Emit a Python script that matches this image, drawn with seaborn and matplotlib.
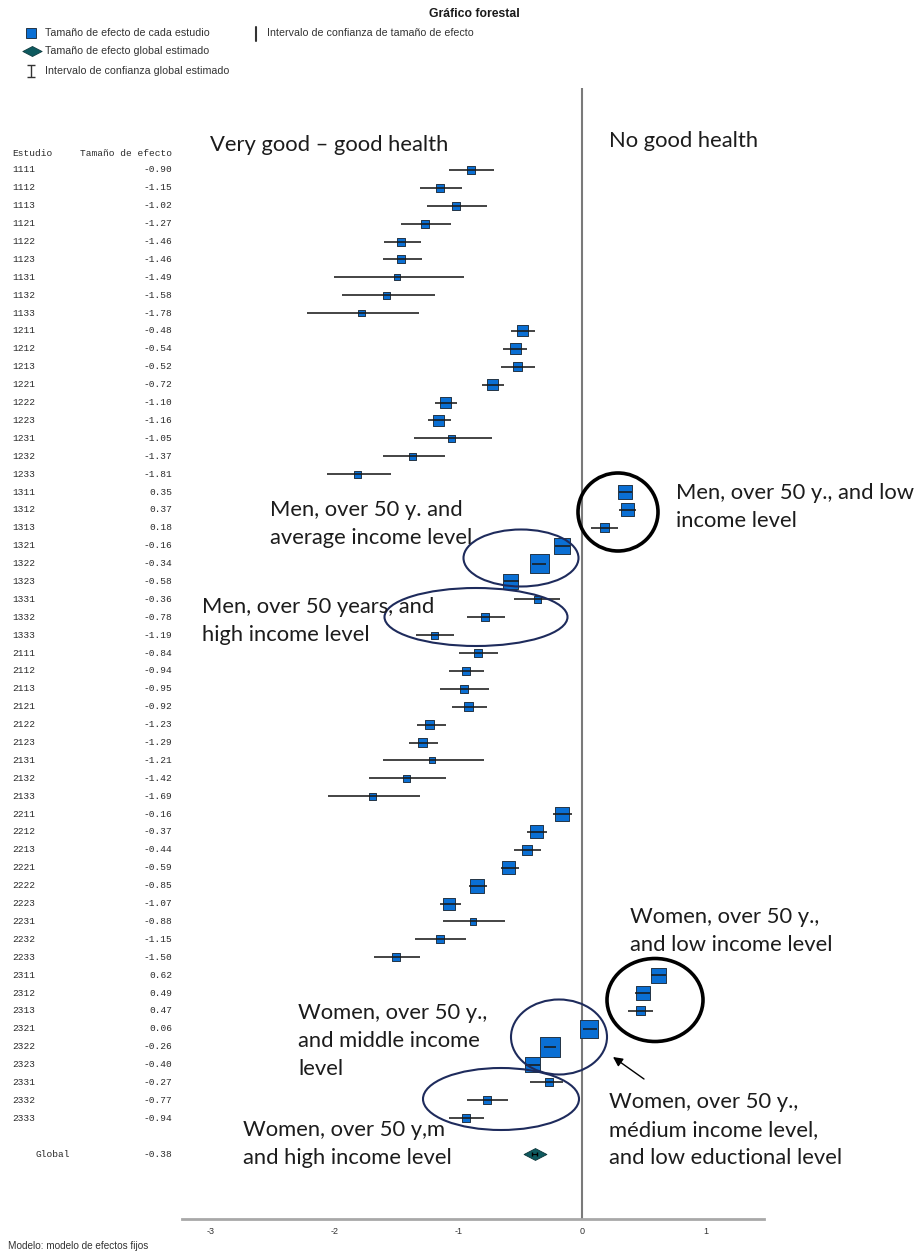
import numpy as np
import pandas as pd
import matplotlib
matplotlib.use("Agg")
import matplotlib.pyplot as plt
import seaborn as sns
from matplotlib.patches import Ellipse
from matplotlib.path import Path
import matplotlib.transforms as mtransforms

# ---------------- data ----------------
studies = ["1111", "1112", "1113", "1121", "1122", "1123", "1131", "1132", "1133",
           "1211", "1212", "1213", "1221", "1222", "1223", "1231", "1232", "1233",
           "1311", "1312", "1313", "1321", "1322", "1323", "1331", "1332", "1333",
           "2111", "2112", "2113", "2121", "2122", "2123", "2131", "2132", "2133",
           "2211", "2212", "2213", "2221", "2222", "2223", "2231", "2232", "2233",
           "2311", "2312", "2313", "2321", "2322", "2323", "2331", "2332", "2333"]

effects = [-0.90, -1.15, -1.02, -1.27, -1.46, -1.46, -1.49, -1.58, -1.78,
           -0.48, -0.54, -0.52, -0.72, -1.10, -1.16, -1.05, -1.37, -1.81,
           0.35, 0.37, 0.18, -0.16, -0.34, -0.58, -0.36, -0.78, -1.19,
           -0.84, -0.94, -0.95, -0.92, -1.23, -1.29, -1.21, -1.42, -1.69,
           -0.16, -0.37, -0.44, -0.59, -0.85, -1.07, -0.88, -1.15, -1.50,
           0.62, 0.49, 0.47, 0.06, -0.26, -0.40, -0.27, -0.77, -0.94]

ci_low = [-1.07, -1.31, -1.25, -1.46, -1.60, -1.61, -2.00, -1.94, -2.22,
          -0.57, -0.64, -0.65, -0.81, -1.19, -1.24, -1.36, -1.61, -2.06,
          0.30, 0.30, 0.07, -0.22, -0.40, -0.63, -0.55, -0.93, -1.34,
          -0.99, -1.07, -1.15, -1.05, -1.33, -1.40, -1.61, -1.72, -2.05,
          -0.23, -0.44, -0.55, -0.65, -0.91, -1.15, -1.12, -1.35, -1.68,
          0.56, 0.43, 0.37, 0.01, -0.31, -0.46, -0.42, -0.93, -1.07]

ci_high = [-0.71, -0.97, -0.77, -1.06, -1.30, -1.29, -0.95, -1.19, -1.32,
           -0.38, -0.44, -0.38, -0.63, -1.01, -1.06, -0.73, -1.11, -1.54,
           0.40, 0.44, 0.29, -0.10, -0.29, -0.51, -0.18, -0.62, -1.03,
           -0.68, -0.79, -0.75, -0.77, -1.10, -1.16, -0.79, -1.10, -1.31,
           -0.08, -0.28, -0.33, -0.51, -0.77, -0.98, -0.62, -0.94, -1.31,
           0.68, 0.55, 0.57, 0.12, -0.21, -0.34, -0.15, -0.60, -0.79]

weights = [0.64, 0.64, 0.64, 0.64, 0.64, 0.64, 0.36, 0.49, 0.40,
           1.21, 1.21, 0.81, 1.21, 1.21, 1.21, 0.49, 0.49, 0.49,
           1.96, 1.69, 0.81, 2.56, 3.61, 2.25, 0.49, 0.64, 0.49,
           0.64, 0.64, 0.64, 0.81, 0.81, 0.81, 0.36, 0.49, 0.49,
           1.96, 1.69, 1.00, 1.69, 1.96, 1.44, 0.49, 0.64, 0.64,
           2.25, 1.96, 0.81, 3.24, 4.00, 2.25, 0.64, 0.64, 0.64]

global_label = "Global"
global_effect = -0.38
global_ci = (-0.40, -0.36)

xticks = [-3, -2, -1, 0, 1]
xtick_labels = ["-3", "-2", "-1", "0", "1"]

# ---------------- style ----------------
W, H = 919, 1255
sns.set_style("white")
plt.rcParams['font.family'] = ['Liberation Sans', 'DejaVu Sans']

BLUE = "#0a6fd4"
EDGE = "#243445"
NAVY = "#1e2b5c"
TEAL = "#0e5a5f"

fig = plt.figure(figsize=(W / 100, H / 100), dpi=100)
fig.patch.set_facecolor("white")

# main forest axes (pixel frame: x 182..764, y 88..1219)
ax = fig.add_axes([182 / W, 1 - 1219 / H, (764 - 182) / W, (1219 - 88) / H])
n = len(studies)
df = pd.DataFrame({"estudio": studies, "efecto": effects, "li": ci_low,
                   "ls": ci_high, "peso": weights, "fila": np.arange(n)})
global_row = n + 1

wmax = max(weights)
sns.scatterplot(data=df, x="efecto", y="fila", size="peso",
                sizes=(0, 51.8 * wmax), size_norm=(0, wmax), marker="s",
                color=BLUE, edgecolor=EDGE, linewidth=0.7, legend=False,
                ax=ax, zorder=3)
ax.hlines(df["fila"], df["li"], df["ls"], color="#1a1a1a", lw=1.15, zorder=4)

diamond = Path([(-1, 0), (0, 0.52), (1, 0), (0, -0.52), (-1, 0)],
               [Path.MOVETO, Path.LINETO, Path.LINETO, Path.LINETO, Path.CLOSEPOLY])
sns.scatterplot(x=[global_effect], y=[global_row], marker=diamond, s=270,
                color=TEAL, edgecolor="#0b3438", linewidth=0.6, ax=ax,
                legend=False, zorder=3)
ax.errorbar([global_effect], [global_row],
            xerr=[[global_effect - global_ci[0]], [global_ci[1] - global_effect]],
            fmt="none", ecolor="black", elinewidth=0.8, capsize=1.5, zorder=4)

ax.axvline(0, color="#7a7a7a", lw=1.5, zorder=1)
ax.set_xlim(-3.23, 1.47)
ax.set_ylim(58.63, -4.58)
ax.set_xticks(xticks)
ax.set_xticklabels(xtick_labels)
ax.set_yticks([])
ax.set_xlabel("")
ax.set_ylabel("")
ax.tick_params(axis="x", length=0, pad=6, labelsize=6.5, labelcolor="#333333")
for s in ["top", "left", "right"]:
    ax.spines[s].set_visible(False)
ax.spines["bottom"].set_color("#a8a8a8")
ax.spines["bottom"].set_linewidth(2.0)
ax.patch.set_alpha(0)

# left table (x in figure, y in rows)
tr = mtransforms.blended_transform_factory(fig.transFigure, ax.transData)
mono = dict(family=["Liberation Mono", "DejaVu Sans Mono"], fontsize=6.8,
            color="#2a2a2a", va="center", transform=tr, clip_on=False)
ax.text(12 / W, -0.9, "Estudio", ha="left", **mono)
ax.text(172 / W, -0.9, "Tamaño de efecto", ha="right", **mono)
for i, (st, ef) in enumerate(zip(studies, effects)):
    ax.text(12 / W, i, st, ha="left", **mono)
    ax.text(172 / W, i, f"{ef:.2f}", ha="right", **mono)
ax.text(36 / W, global_row, global_label, ha="left", **mono)
ax.text(172 / W, global_row, f"{global_effect:.2f}", ha="right", **mono)

# overlay axes in pixel coordinates for title, legend, notes
ov = fig.add_axes([0, 0, 1, 1])
ov.set_xlim(0, W)
ov.set_ylim(H, 0)
ov.axis("off")

ov.text(474, 14, "Gráfico forestal", fontsize=8.8, weight="bold", ha="center",
        va="center", color="#1a1a1a")
leg = dict(fontsize=7.7, va="center", ha="left", color="#333333")
ov.plot([31], [33], marker="s", ms=6.5, mfc=BLUE, mec=EDGE, mew=0.7, ls="none")
ov.text(45, 33, "Tamaño de efecto de cada estudio", **leg)
ov.plot([32], [51], marker=diamond, ms=14, mfc=TEAL, mec="#0b3438", mew=0.5, ls="none")
ov.text(45, 51, "Tamaño de efecto global estimado", **leg)
ov.errorbar([31], [71], yerr=[[6], [6]], fmt="none", ecolor="#333333",
            elinewidth=1.0, capsize=3, capthick=1.0)
ov.text(45, 71, "Intervalo de confianza global estimado", **leg)
ov.plot([256, 256], [27, 41], color="#333333", lw=1.5)
ov.text(267, 33, "Intervalo de confianza de tamaño de efecto", **leg)

ov.text(8, 1246, "Modelo: modelo de efectos fijos", fontsize=7.2, va="center",
        ha="left", color="#333333")

note = dict(family=["Lato", "DejaVu Sans"], fontsize=15.8, ha="left", va="center",
            linespacing=1.5, color="#1c1c1c")
ov.text(210, 145, "Very good – good health", **note)
ov.text(609, 141, "No good health", **note)
ov.text(676, 507, "Men, over 50 y., and low\nincome level", **note)
ov.text(270, 524, "Men, over 50 y. and\naverage income level", **note)
ov.text(202, 621, "Men, over 50 years, and\nhigh income level", **note)
ov.text(630, 931, "Women, over 50 y.,\nand low income level", **note)
ov.text(298, 1041, "Women, over 50 y.,\nand middle income\nlevel", **note)
ov.text(609, 1130, "Women, over 50 y.,\nmédium income level,\nand low eductional level", **note)
ov.text(243, 1144, "Women, over 50 y,m\nand high income level", **note)

ellipses = [((618, 512), 80, 78, "black", 2.6),
            ((521, 558), 115, 57, NAVY, 1.5),
            ((476, 617), 183, 58, NAVY, 1.5),
            ((655, 1000), 96, 83, "black", 2.6),
            ((559, 1037), 96, 75, NAVY, 1.5),
            ((501, 1099), 156, 62, NAVY, 1.5)]
for c, w, h, col, lw in ellipses:
    ov.add_patch(Ellipse(c, w, h, fill=False, edgecolor=col, lw=lw))

ov.annotate("", xy=(613, 1057), xytext=(644, 1079),
            arrowprops=dict(arrowstyle="-|>", color="black", lw=1.0,
                            mutation_scale=14, shrinkA=0, shrinkB=0))

fig.savefig("out.png", dpi=100, facecolor="white")
